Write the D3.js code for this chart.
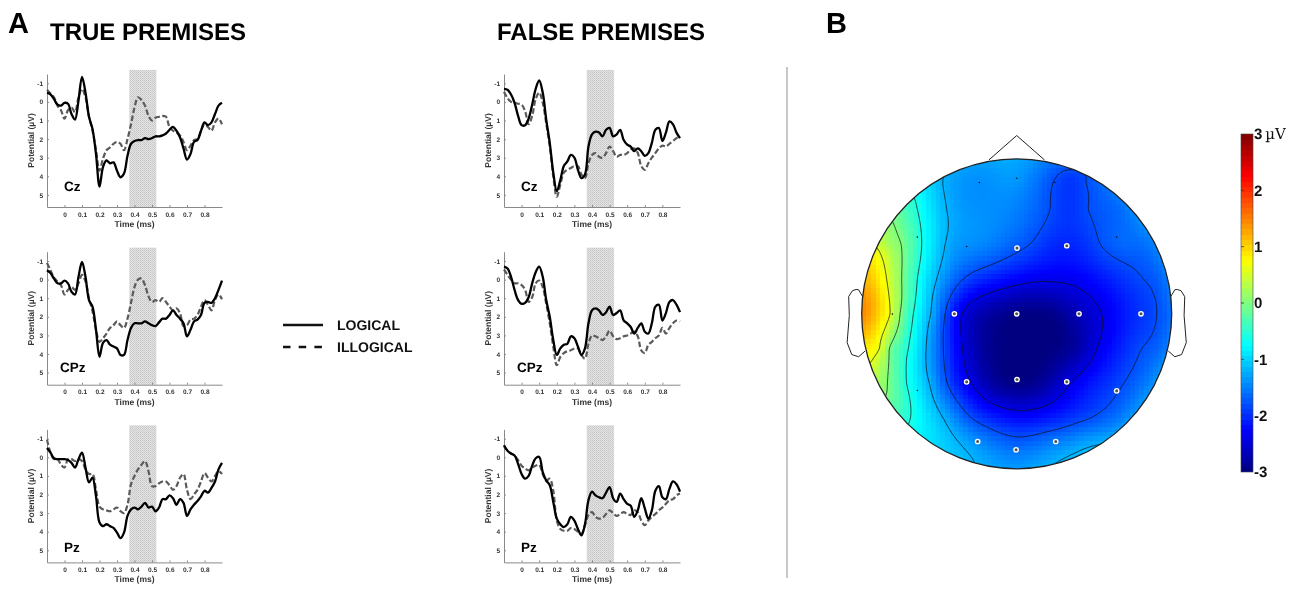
<!DOCTYPE html>
<html>
<head>
<meta charset="utf-8">
<script src="https://cdn.jsdelivr.net/npm/d3@7"></script>
<style>
  html, body { margin: 0; padding: 0; background: #fff; }
  svg { display: block; will-change: transform; text-rendering: geometricPrecision; }
</style>
</head>
<body>
<svg id="fig" width="1296" height="589"></svg>
<script>
// ---------- ERP data (µV, positive plotted downward) ----------
const times = [-0.1,-0.08,-0.06,-0.04,-0.02,0,0.02,0.04,0.06,0.08,0.1,0.12,0.14,0.16,0.18,0.2,0.22,0.24,0.26,0.28,0.3,
  0.32,0.34,0.36,0.38,0.4,0.42,0.44,0.46,0.48,0.5,0.52,0.54,0.56,0.58,0.6,0.62,0.64,0.66,0.68,0.7,
  0.72,0.74,0.76,0.78,0.8,0.82,0.84,0.86,0.88,0.9];

const trueCzLogical = [-0.5,-0.4,-0.15,0.15,0.2,0.05,0.1,0.65,0.95,-0.07,-1.35,-0.5,0.8,1.45,2.8,4.55,3.5,3.15,3.3,3.25,3.7,
  4.05,3.85,2.9,2.25,2.1,2.05,2.05,1.95,2.0,1.95,1.85,1.85,1.8,1.7,1.5,1.35,1.55,1.9,2.5,3.1,
  2.8,2.15,2.05,1.55,1.1,1.25,1.1,0.65,0.2,0.05];
const trueCzIllogical = [-0.65,-0.45,-0.25,0.2,0.45,0.9,0.45,0.3,0.55,-0.25,-0.7,-0.25,0.8,1.55,2.6,3.7,3.05,2.6,2.45,2.25,2.15,
  2.25,2.6,2.0,1.2,0.3,-0.25,-0.1,0.2,0.75,1.0,0.85,0.8,0.75,0.8,1.35,1.55,1.65,1.8,2.15,2.6,
  2.35,2.05,2.0,1.55,1.2,1.35,1.55,1.1,0.9,1.2];

const falseCzLogical = [-0.7,-0.65,-0.4,0.05,0.75,1.25,1.25,0.9,0.15,-0.7,-1.15,-0.5,0.95,2.2,3.8,4.8,4.2,3.45,3.2,2.85,3.0,
  3.65,4.1,3.9,2.4,1.75,1.6,1.65,1.85,1.5,1.4,1.85,1.75,1.5,2.05,2.3,2.4,2.65,2.5,2.65,2.9,
  2.75,2.2,1.5,1.4,2.1,1.65,1.05,1.2,1.65,1.95];
const falseCzIllogical = [-0.55,-0.2,0.0,0.05,0.1,0.15,0.5,1.2,0.75,-0.15,-0.5,0.05,1.15,2.4,4.0,5.1,4.45,3.8,3.65,3.55,3.45,
  3.45,3.9,4.1,3.3,2.85,2.75,2.95,3.0,2.75,2.4,2.65,2.95,2.85,2.85,2.75,2.55,2.5,2.75,3.45,3.65,
  3.3,3.0,2.75,2.5,2.35,2.4,2.25,2.1,1.95,1.85];

const trueCPzLogical = [-0.5,-0.35,-0.05,0.2,0.2,0.05,0.2,0.65,0.8,-0.15,-0.95,-0.15,1.1,1.45,2.7,4.15,3.4,3.25,3.5,3.6,3.7,
  4.05,4.05,3.25,2.6,2.35,2.35,2.35,2.25,2.35,2.45,2.5,2.3,2.1,2.1,1.9,1.65,1.9,2.1,2.35,3.05,
  2.7,2.25,2.15,1.9,1.25,1.2,1.25,1.0,0.55,0.05];
const trueCPzIllogical = [-0.9,-0.5,-0.1,0.1,0.3,0.8,0.55,0.4,0.55,0.2,-0.25,0.1,1.0,1.7,2.7,3.35,3.15,2.9,2.6,2.45,2.25,
  2.45,2.6,2.1,1.25,0.4,0.0,-0.05,0.3,0.9,1.2,1.1,1.2,1.0,1.2,1.45,1.65,1.55,1.8,2.5,2.45,
  2.15,2.1,1.9,1.45,1.1,1.35,1.65,1.1,0.8,1.05];

const falseCPzLogical = [-0.7,-0.6,-0.15,0.55,1.1,1.3,1.25,0.95,0.2,-0.4,-0.7,-0.15,1.1,2.0,3.25,4.05,3.7,3.5,3.45,3.05,3.15,
  3.6,4.05,3.7,2.35,1.65,1.55,1.65,1.9,1.75,1.45,1.9,1.8,1.65,2.2,2.35,2.55,2.9,2.6,2.35,2.8,
  2.9,2.35,1.45,1.35,2.2,1.8,1.2,1.1,1.35,1.75];
const falseCPzIllogical = [-0.55,-0.25,0.0,0.2,0.2,0.3,0.55,1.2,0.95,0.2,0.05,0.4,1.3,2.35,3.6,4.6,4.15,3.95,3.85,3.8,3.7,
  3.7,4.05,4.25,3.45,3.0,3.05,3.15,3.25,3.05,2.75,3.05,3.2,3.15,3.05,3.0,2.9,2.8,3.05,3.8,3.95,
  3.5,3.35,3.15,3.0,2.6,2.9,2.6,2.35,2.2,2.25];

const truePzLogical = [-0.5,-0.25,0.05,0.1,0.1,0.1,0.15,0.3,0.55,0.1,-0.25,0.55,1.35,1.1,2.1,3.5,3.7,3.6,3.7,3.8,4.05,
  4.35,4.05,3.15,2.8,2.7,2.8,2.65,2.45,2.7,2.65,2.9,2.7,2.25,2.25,2.05,2.2,2.55,2.25,2.45,3.15,
  2.8,2.55,2.35,2.1,1.8,1.9,1.65,1.3,0.65,0.3];
const truePzIllogical = [-0.95,-0.25,0.1,0.1,0.4,0.55,0.1,0.1,0.2,0.1,0.2,0.65,0.9,0.9,1.75,2.65,2.8,2.85,2.9,2.8,2.7,
  2.9,3.0,2.55,1.45,1.0,0.65,0.4,0.2,0.75,1.55,1.55,1.4,1.3,1.3,1.5,1.75,1.55,1.1,0.9,1.75,
  2.25,2.0,1.75,1.3,0.85,1.1,1.3,1.0,0.75,0.9];

const falsePzLogical = [-0.65,-0.35,-0.2,-0.1,0.35,0.9,1.15,1.0,0.45,0.05,-0.02,0.8,1.25,1.5,2.4,3.3,3.6,3.75,3.6,3.2,3.4,
  3.85,4.2,3.6,2.3,1.85,2.05,2.15,2.2,1.9,1.6,2.2,2.4,1.95,2.25,2.5,2.6,3.2,2.85,2.2,2.75,
  3.3,2.85,1.8,1.55,2.15,2.25,1.7,1.3,1.45,1.85];
const falsePzIllogical = [-0.6,-0.35,-0.2,-0.1,0.15,0.45,0.6,0.7,0.55,0.45,0.4,0.9,1.25,1.15,1.8,3.4,3.85,3.95,3.95,3.8,3.85,
  4.0,4.1,3.65,3.1,2.95,3.2,3.3,3.25,3.05,2.85,3.0,3.15,3.05,2.95,3.05,3.1,2.85,2.95,3.4,3.65,
  3.4,3.2,3.05,2.85,2.7,2.5,2.3,2.25,2.05,1.95];

const analysisWindow = [0.37, 0.525];
const xTickValues = [0,0.1,0.2,0.3,0.4,0.5,0.6,0.7,0.8];
const yTickValues = [-1,0,1,2,3,4,5];
const premiseTitles = ["TRUE PREMISES", "FALSE PREMISES"];
const legendLabels = ["LOGICAL", "ILLOGICAL"];

// ---------- Scalp map data: potential (µV) read at head positions (u right, v back) ----------
const mapSamples = [
  [-0.477,-0.85,-1.2],[-0.225,-0.87,-1.4],[0,-0.88,-1.35],[0.237,-0.85,-1.8],[0.34,-0.88,-1.92],[0.447,-0.85,-1.8],
  [0.344,-0.929,-1.8],[0.441,-0.897,-1.8],
  [-0.641,-0.675,-0.6],[-0.452,-0.675,-1.2],[-0.225,-0.675,-1.4],[0,-0.675,-1.5],[0.215,-0.675,-1.8],[0.34,-0.675,-1.95],[0.462,-0.675,-1.8],[0.675,-0.675,-1.6],
  [-0.85,-0.45,0.3],[-0.746,-0.45,0],[-0.613,-0.45,-0.6],[-0.462,-0.45,-1.2],[-0.225,-0.45,-1.45],[0,-0.45,-1.7],[0.086,-0.45,-1.8],[0.225,-0.45,-2.0],[0.45,-0.45,-1.95],[0.538,-0.45,-1.8],[0.675,-0.45,-1.65],[0.88,-0.45,-1.5],
  [-0.95,-0.225,1.1],[-0.839,-0.225,0.6],[-0.742,-0.225,0],[-0.641,-0.225,-0.6],[-0.516,-0.225,-1.2],[-0.344,-0.225,-1.8],[-0.15,-0.225,-2.1],[0.05,-0.225,-2.3],[0.25,-0.225,-2.35],[0.45,-0.225,-2.25],[0.65,-0.225,-2.0],[0.817,-0.225,-1.8],[0.95,-0.225,-1.6],
  [-0.975,0,1.4],[-0.9,0,1.05],[-0.817,0,0.6],[-0.753,0,0],[-0.667,0,-0.6],[-0.555,0,-1.2],[-0.462,0,-1.8],[-0.35,0,-2.4],[-0.2,0,-2.75],[0,0,-2.95],[0.2,0,-2.95],[0.4,0,-2.65],[0.548,0,-2.4],[0.7,0,-2.1],[0.903,0,-1.8],[0.975,0,-1.65],
  [-0.95,0.225,0.8],[-0.886,0.225,0.6],[-0.822,0.225,0],[-0.699,0.225,-0.6],[-0.585,0.225,-1.2],[-0.473,0.225,-1.8],[-0.35,0.225,-2.4],[-0.2,0.225,-2.85],[0,0.225,-3.0],[0.2,0.225,-3.0],[0.4,0.225,-2.75],[0.516,0.225,-2.4],[0.675,0.225,-2.05],[0.806,0.225,-1.8],[0.94,0.225,-1.6],
  [-0.834,0.45,0],[-0.71,0.45,-0.6],[-0.563,0.45,-1.2],[-0.447,0.45,-1.8],[-0.29,0.45,-2.4],[-0.15,0.45,-2.8],[0,0.45,-2.95],[0.15,0.45,-2.85],[0.344,0.45,-2.4],[0.5,0.45,-2.1],[0.69,0.45,-1.8],[0.82,0.45,-1.55],
  [-0.58,0.675,-0.9],[-0.473,0.675,-1.2],[-0.288,0.675,-1.8],[-0.15,0.675,-2.05],[0,0.675,-2.2],[0.15,0.675,-2.15],[0.3,0.675,-2.0],[0.471,0.675,-1.8],[0.65,0.675,-1.55],
  [-0.355,0.85,-1.2],[-0.2,0.85,-1.45],[0,0.87,-1.6],[0.2,0.85,-1.5],[0.45,0.83,-1.3],
  [-0.656,-0.735,-0.6],[-0.796,-0.585,0],[-0.892,-0.413,0.6],[-0.946,0.318,0.6],[-0.839,0.512,0],[-0.688,0.684,-0.6],[-0.28,0.942,-1.2]
];
const contourLevels = [-2.4,-1.8,-1.2,-0.6,0,0.6];
const markedSites = [[0.002,-0.424],[0.323,-0.439],[-0.402,0],[0,0],[0.402,0],[0.802,0],[-0.323,0.439],
  [0.002,0.424],[0.323,0.439],[0.645,0.497],[-0.252,0.824],[0.252,0.824],[-0.004,0.877]];
const otherSites = [[-0.241,-0.847],[0,-0.875],[0.247,-0.847],[-0.641,-0.495],[-0.323,-0.434],[0.645,-0.495],
  [-0.802,0.002],[-0.641,0.495]];
const colorbarTicks = [-3,-2,-1,0,1,2,3];

// Head outline geometry (radius units, v pointing back)
const noseOutline = [[0.18,-0.992],[0,-1.15],[-0.18,-0.992]];
const earX = [0.994,1.02,1.036,1.06,1.084,1.08,1.094,1.064,1.02,0.978];
const earV = [-0.111,-0.155,-0.157,-0.149,-0.111,0.011,0.186,0.263,0.277,0.24];

// ---------- drawing ----------
const FONT = 'Arial, "Liberation Sans", sans-serif';
const svg = d3.select("#fig").attr("font-family", FONT);
const defs = svg.append("defs");

const pat = defs.append("pattern").attr("id", "stipple")
  .attr("width", 2).attr("height", 2).attr("patternUnits", "userSpaceOnUse");
pat.append("rect").attr("width", 2).attr("height", 2).attr("fill", "#e3e3e3");
pat.append("rect").attr("width", 1).attr("height", 1).attr("fill", "#c6c6c6");
pat.append("rect").attr("x", 1).attr("y", 1).attr("width", 1).attr("height", 1).attr("fill", "#d0d0d0");

// Figure letters and column titles
svg.append("text").attr("x", 8).attr("y", 33).attr("font-size", 29).attr("font-weight", "bold").text("A");
svg.append("text").attr("x", 826).attr("y", 33).attr("font-size", 29).attr("font-weight", "bold").text("B");
svg.append("text").attr("x", 50).attr("y", 40).attr("font-size", 24).attr("font-weight", "bold").text(premiseTitles[0]);
svg.append("text").attr("x", 497).attr("y", 40).attr("font-size", 24).attr("font-weight", "bold").text(premiseTitles[1]);

// Separator between A and B
svg.append("line").attr("x1", 787).attr("x2", 787).attr("y1", 67).attr("y2", 578)
  .attr("stroke", "#c2c2c2").attr("stroke-width", 1.8);

const columns = [{ x0: 47, x1: 222 }, { x0: 504, x1: 680 }];
const rowTop = r => 74 + 177.7 * r;
const PANEL_H = 133;

const panels = [
  { col: 0, row: 0, site: "Cz",  logical: trueCzLogical,   illogical: trueCzIllogical },
  { col: 0, row: 1, site: "CPz", logical: trueCPzLogical,  illogical: trueCPzIllogical },
  { col: 0, row: 2, site: "Pz",  logical: truePzLogical,   illogical: truePzIllogical },
  { col: 1, row: 0, site: "Cz",  logical: falseCzLogical,  illogical: falseCzIllogical },
  { col: 1, row: 1, site: "CPz", logical: falseCPzLogical, illogical: falseCPzIllogical },
  { col: 1, row: 2, site: "Pz",  logical: falsePzLogical,  illogical: falsePzIllogical }
];
const siteLabelDx = { Cz: 17, CPz: 13, Pz: 17 };
const siteLabelDy = { Cz: 117, CPz: 120, Pz: 123 };

panels.forEach(p => {
  const c = columns[p.col];
  const top = rowTop(p.row), bottom = top + PANEL_H;
  const x = d3.scaleLinear().domain([-0.1, 0.9]).range([c.x0, c.x1]);
  const y = d3.scaleLinear().domain([-1.5, 5.65]).range([top, bottom]);
  const g = svg.append("g");

  g.append("rect")
    .attr("x", x(analysisWindow[0])).attr("width", x(analysisWindow[1]) - x(analysisWindow[0]))
    .attr("y", y(-1.72)).attr("height", bottom - y(-1.72))
    .attr("fill", "url(#stipple)");

  const xAxis = d3.axisBottom(x).tickValues(xTickValues)
    .tickFormat(d => d === 0 ? "0" : d3.format(".1f")(d))
    .tickSizeInner(-2).tickSizeOuter(0).tickPadding(5);
  const yAxis = d3.axisLeft(y).tickValues(yTickValues)
    .tickFormat(d => String(d))
    .tickSizeInner(-2).tickSizeOuter(0).tickPadding(4);
  const gx = g.append("g").attr("transform", `translate(0,${bottom})`).call(xAxis);
  const gy = g.append("g").attr("transform", `translate(${c.x0},0)`).call(yAxis);
  [gx, gy].forEach(a => {
    a.attr("font-family", FONT).attr("font-size", 6.5).attr("font-weight", "bold");
    a.select(".domain").attr("stroke", "#8a8a8a").attr("stroke-width", 1);
    a.selectAll(".tick line").attr("stroke", "#8a8a8a");
    a.selectAll(".tick text").attr("fill", "#333");
  });

  g.append("text").attr("x", (c.x0 + c.x1) / 2).attr("y", bottom + 20)
    .attr("text-anchor", "middle").attr("font-size", 8.5).attr("font-weight", "bold").attr("fill", "#333")
    .text("Time (ms)");
  g.append("text")
    .attr("transform", `translate(${c.x0 - 13},${(top + bottom) / 2}) rotate(-90)`)
    .attr("text-anchor", "middle").attr("font-size", 8.5).attr("font-weight", "bold").attr("fill", "#333")
    .text("Potential (µV)");

  g.append("text").attr("x", c.x0 + siteLabelDx[p.site]).attr("y", top + siteLabelDy[p.site])
    .attr("font-size", 13.5).attr("font-weight", "bold").text(p.site);

  const line = d3.line()
    .x((d, i) => x(times[i])).y(d => y(d))
    .curve(d3.curveCatmullRom.alpha(0.5));
  g.append("path").attr("d", line(p.illogical)).attr("fill", "none")
    .attr("stroke", "#5a5a5a").attr("stroke-width", 2.2).attr("stroke-dasharray", "5.5,2.5");
  g.append("path").attr("d", line(p.logical)).attr("fill", "none")
    .attr("stroke", "#000").attr("stroke-width", 2.3);
});

// Legend
const legend = svg.append("g");
legend.append("line").attr("x1", 283).attr("x2", 323).attr("y1", 325).attr("y2", 325)
  .attr("stroke", "#111").attr("stroke-width", 2.4);
legend.append("line").attr("x1", 283).attr("x2", 323).attr("y1", 347).attr("y2", 347)
  .attr("stroke", "#111").attr("stroke-width", 2.4).attr("stroke-dasharray", "7.5,8.2");
legend.append("text").attr("x", 337).attr("y", 330).attr("font-size", 14).attr("font-weight", "bold")
  .attr("fill", "#111").text(legendLabels[0]);
legend.append("text").attr("x", 337).attr("y", 352).attr("font-size", 14).attr("font-weight", "bold")
  .attr("fill", "#111").text(legendLabels[1]);

// ---------- Scalp map ----------
const HX = 1016.7, HY = 313.8, HR = 155;
const clamp01 = v => Math.max(0, Math.min(1, v));
const jet = t => d3.rgb(255 * clamp01(1.5 - Math.abs(4 * t - 3)),
                        255 * clamp01(1.5 - Math.abs(4 * t - 2)),
                        255 * clamp01(1.5 - Math.abs(4 * t - 1))).toString();
const color = d3.scaleSequential(jet).domain([-3, 3]).clamp(true);

// Biharmonic spline surface through the sampled potentials
function solve(M, b) {
  const n = b.length, a = M.map((r, i) => [...r, b[i]]);
  for (let c = 0; c < n; c++) {
    let p = c;
    for (let r = c + 1; r < n; r++) if (Math.abs(a[r][c]) > Math.abs(a[p][c])) p = r;
    [a[c], a[p]] = [a[p], a[c]];
    for (let r = c + 1; r < n; r++) {
      const f = a[r][c] / a[c][c];
      if (!f) continue;
      for (let k = c; k <= n; k++) a[r][k] -= f * a[c][k];
    }
  }
  const xs = new Array(n).fill(0);
  for (let r = n - 1; r >= 0; r--) {
    let s = a[r][n];
    for (let k = r + 1; k < n; k++) s -= a[r][k] * xs[k];
    xs[r] = s / a[r][r];
  }
  return xs;
}
const green = r => r > 1e-12 ? r * r * (Math.log(r) - 1) : 0;
const weights = solve(
  mapSamples.map(p => mapSamples.map(q => green(Math.hypot(p[0] - q[0], p[1] - q[1])))),
  mapSamples.map(p => p[2]));
const surface = (u, v) => {
  let s = 0;
  for (let k = 0; k < mapSamples.length; k++)
    s += weights[k] * green(Math.hypot(u - mapSamples[k][0], v - mapSamples[k][1]));
  return s;
};

defs.append("clipPath").attr("id", "headClip")
  .append("circle").attr("cx", HX).attr("cy", HY).attr("r", HR);

const NC = 67, cell = 2 * HR / NC;
const cells = [];
for (let j = 0; j < NC; j++) {
  for (let i = 0; i < NC; i++) {
    const u = -1 + (i + 0.5) * 2 / NC, v = -1 + (j + 0.5) * 2 / NC;
    if (u * u + v * v > 1.1) continue;
    cells.push({ i, j, val: surface(u, v) });
  }
}
const mapG = svg.append("g").attr("clip-path", "url(#headClip)");
mapG.selectAll("rect.cell").data(cells).join("rect").attr("class", "cell")
  .attr("x", d => HX - HR + d.i * cell).attr("y", d => HY - HR + d.j * cell)
  .attr("width", cell + 0.5).attr("height", cell + 0.5)
  .attr("fill", d => color(d.val)).attr("shape-rendering", "crispEdges");

// Iso-potential lines
const NG = 150, EXT = 1.1;
const gridVals = new Array(NG * NG);
for (let j = 0; j < NG; j++)
  for (let i = 0; i < NG; i++)
    gridVals[j * NG + i] = surface(-EXT + (i + 0.5) * 2 * EXT / NG, -EXT + (j + 0.5) * 2 * EXT / NG);
const contours = d3.contours().size([NG, NG]).thresholds(contourLevels)(gridVals);
const gridToPx = d3.geoTransform({
  point(px, py) {
    this.stream.point(HX + (-EXT + px * 2 * EXT / NG) * HR, HY + (-EXT + py * 2 * EXT / NG) * HR);
  }
});
mapG.selectAll("path.iso").data(contours).join("path").attr("class", "iso")
  .attr("d", d3.geoPath(gridToPx)).attr("fill", "none")
  .attr("stroke", "#111").attr("stroke-width", 0.7);

// Electrode sites
const sx = u => HX + u * HR, sy = v => HY + v * HR;
mapG.selectAll("circle.site").data(otherSites).join("circle").attr("class", "site")
  .attr("cx", d => sx(d[0])).attr("cy", d => sy(d[1])).attr("r", 0.8).attr("fill", "#111");
mapG.selectAll("circle.marked").data(markedSites).join("circle").attr("class", "marked")
  .attr("cx", d => sx(d[0])).attr("cy", d => sy(d[1])).attr("r", 2.2)
  .attr("fill", "#555").attr("stroke", "#fff").attr("stroke-width", 1.3);

// Head, nose, ears
const headG = svg.append("g").attr("fill", "none").attr("stroke", "#222").attr("stroke-width", 1);
headG.append("circle").attr("cx", HX).attr("cy", HY).attr("r", HR).attr("stroke-width", 1.3);
const outline = d3.line().x(d => sx(d[0])).y(d => sy(d[1]));
headG.append("path").attr("d", outline(noseOutline));
headG.append("path").attr("d", outline(earX.map((u, k) => [u, earV[k]])));
headG.append("path").attr("d", outline(earX.map((u, k) => [-u, earV[k]])));

// ---------- Colorbar ----------
const cb = { x: 1241, w: 12, top: 134, bottom: 472 };
const cbY = d3.scaleLinear().domain([-3, 3]).range([cb.bottom, cb.top]);
const bands = d3.range(64).map(k => -3 + (k + 0.5) * 6 / 64);
const cbG = svg.append("g");
cbG.selectAll("rect").data(bands).join("rect")
  .attr("x", cb.x).attr("width", cb.w)
  .attr("y", d => cbY(d + 3 / 64)).attr("height", (cb.bottom - cb.top) / 64 + 0.4)
  .attr("fill", d => color(d)).attr("shape-rendering", "crispEdges");
cbG.append("rect").attr("x", cb.x).attr("y", cb.top).attr("width", cb.w).attr("height", cb.bottom - cb.top)
  .attr("fill", "none").attr("stroke", "#444").attr("stroke-width", 0.6);
cbG.selectAll("line.tk").data(colorbarTicks.slice(1, -1)).join("line").attr("class", "tk")
  .attr("x1", cb.x).attr("x2", cb.x + 3).attr("y1", d => cbY(d)).attr("y2", d => cbY(d))
  .attr("stroke", "#333").attr("stroke-width", 0.8);
const cbLabels = cbG.selectAll("text").data(colorbarTicks).join("text")
  .attr("x", cb.x + 13).attr("y", d => cbY(d)).attr("dy", "0.36em")
  .attr("font-size", 15).attr("font-weight", "bold").attr("fill", "#111");
cbLabels.append("tspan").text(d => String(d));
cbLabels.filter(d => d === 3).append("tspan").attr("dx", 3).attr("font-weight", "normal")
  .attr("font-family", '"DejaVu Serif", serif').attr("font-size", 15).text("µV");
</script>
</body>
</html>
